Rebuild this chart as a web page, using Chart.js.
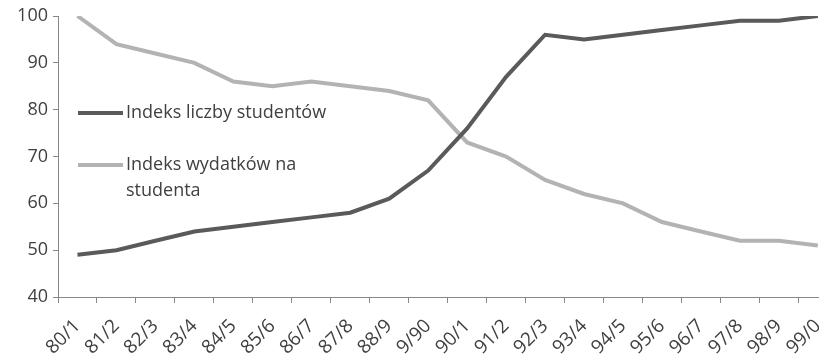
<!DOCTYPE html>
<html>
<head>
<meta charset="utf-8">
<script src="https://cdn.jsdelivr.net/npm/chart.js@4/dist/chart.umd.min.js"></script>
<style>
  html, body { margin: 0; padding: 0; background: #fff; }
  body { width: 819px; height: 356px; overflow: hidden; }
  #wrap { width: 846px; height: 356px; }
</style>
</head>
<body>
<div id="wrap"><canvas id="c" width="846" height="356"></canvas></div>
<script>
// Academic years
const years = ['80/1', '81/2', '82/3', '83/4', '84/5', '85/6', '86/7', '87/8', '88/9', '9/90',
               '90/1', '91/2', '92/3', '93/4', '94/5', '95/6', '96/7', '97/8', '98/9', '99/0'];

// Index of the number of students
const studentsIndex = [49, 50, 52, 54, 55, 56, 57, 58, 61, 67, 76, 87, 96, 95, 96, 97, 98, 99, 99, 100];

// Index of spending per student
const spendingIndex = [100, 94, 92, 90, 86, 85, 86, 85, 84, 82, 73, 70, 65, 62, 60, 56, 54, 52, 52, 51];

// Series names, split into the lines shown in the legend
const studentsName = ['Indeks liczby studentów'];
const spendingName = ['Indeks wydatków na', 'studenta'];

// Value axis
const yMin = 40, yMax = 100, yStep = 10;

const FONT = '"Open Sans", "Liberation Sans", sans-serif';
const TEXT = '#404040';
const AXIS = '#878787';

// Legend drawn inside the plot, lines of text stacked under each sample
const insideLegend = {
  id: 'insideLegend',
  afterDraw(chart) {
    const ctx = chart.ctx;
    const items = [
      { ds: chart.data.datasets[0], lines: studentsName, y: 113 },
      { ds: chart.data.datasets[1], lines: spendingName, y: 165 }
    ];
    ctx.save();
    ctx.font = '18px ' + FONT;
    ctx.textBaseline = 'middle';
    ctx.textAlign = 'left';
    items.forEach(it => {
      ctx.strokeStyle = it.ds.borderColor;
      ctx.lineWidth = it.ds.borderWidth;
      ctx.beginPath();
      ctx.moveTo(78, it.y);
      ctx.lineTo(123, it.y);
      ctx.stroke();
      ctx.fillStyle = TEXT;
      it.lines.forEach((ln, i) => ctx.fillText(ln, 126, it.y + i * 26));
    });
    ctx.restore();
  }
};

new Chart(document.getElementById('c'), {
  type: 'line',
  data: {
    labels: years,
    datasets: [
      {
        label: studentsName.join(' '),
        data: studentsIndex,
        borderColor: '#5a5a5a',
        borderWidth: 4,
        pointRadius: 0,
        tension: 0,
        fill: false
      },
      {
        label: spendingName.join(' '),
        data: spendingIndex,
        borderColor: '#b3b3b3',
        borderWidth: 4,
        pointRadius: 0,
        tension: 0,
        fill: false
      }
    ]
  },
  options: {
    responsive: false,
    animation: false,
    devicePixelRatio: 1,
    layout: { padding: { top: 16, right: 2, left: 0, bottom: 0 } },
    plugins: {
      legend: { display: false },
      tooltip: { enabled: false }
    },
    scales: {
      x: {
        offset: true,
        grid: { offset: true, drawOnChartArea: false, drawTicks: true, tickLength: 6, color: AXIS },
        border: { display: true, color: AXIS, width: 1 },
        ticks: {
          autoSkip: false,
          minRotation: 45,
          maxRotation: 45,
          padding: 12,
          color: TEXT,
          font: { family: FONT, size: 19 }
        },
        afterFit(axis) { axis.height = 59; }
      },
      y: {
        min: yMin,
        max: yMax,
        grid: { drawOnChartArea: false, drawTicks: true, tickLength: 5, color: AXIS },
        border: { display: true, color: AXIS, width: 1 },
        ticks: {
          stepSize: yStep,
          padding: 5,
          color: TEXT,
          font: { family: FONT, size: 18 }
        },
        afterFit(axis) { axis.width = 58; }
      }
    }
  },
  plugins: [insideLegend]
});
</script>
</body>
</html>
